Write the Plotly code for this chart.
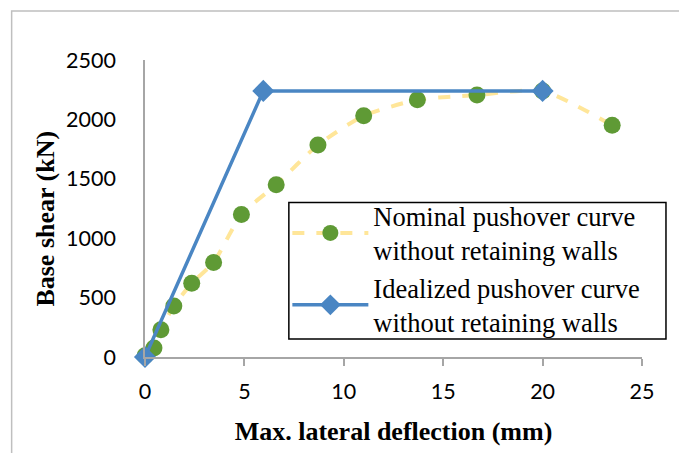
import plotly.graph_objects as go

# Nominal pushover curve
nominal_x = [0.0, 0.45, 0.8, 1.45, 2.35, 3.45, 4.85, 6.6, 8.7, 11.0, 13.7, 16.7, 20.0, 23.5]
nominal_y = [10, 75, 230, 430, 620, 795, 1200, 1450, 1785, 2030, 2165, 2205, 2240, 1950]

# Idealized pushover curve
ideal_x = [0.0, 5.95, 20.0]
ideal_y = [0, 2240, 2240]

x_ticks = [0, 5, 10, 15, 20, 25]
y_ticks = [0, 500, 1000, 1500, 2000, 2500]

OFF = 8  # page body margin
W, H = 687, 453
pw, ph = 497.5, 297
L = 144.5 - OFF
T = 60 - OFF
R = W - L - pw
B = H - T - ph

def sx(px):
    return (px - OFF - L) / pw

def sy(py):
    return (H - B - (py - OFF)) / ph

fig = go.Figure()
fig.add_trace(go.Scatter(
    x=nominal_x, y=nominal_y, mode="lines+markers",
    name="Nominal pushover curve<br>without retaining walls",
    line=dict(color="#FFE699", width=4, dash="dash", shape="spline", smoothing=0.6),
    marker=dict(symbol="circle", size=17, color="#5F9A35"),
    cliponaxis=False,
))
fig.add_trace(go.Scatter(
    x=ideal_x, y=ideal_y, mode="lines+markers",
    name="Idealized pushover curve<br>without retaining walls",
    line=dict(color="#4A86C3", width=3.5),
    marker=dict(symbol="diamond", size=17, color="#4A86C3"),
    cliponaxis=False,
))

axis_font = dict(family="Lato", size=21.5, color="#000000")
title_font = dict(family="Liberation Serif", size=26, color="#000000")

fig.update_layout(
    width=W, height=H,
    margin=dict(l=L, r=R, t=T, b=B, pad=0),
    paper_bgcolor="white", plot_bgcolor="white",
    showlegend=True,
    legend=dict(
        x=sx(287), y=sy(192), xanchor="left", yanchor="top",
        borderwidth=0, bgcolor="rgba(0,0,0,0)",
        font=dict(family="Liberation Serif", size=26.5, color="#000000"),
        itemwidth=76, tracegroupgap=0, valign="middle",
    ),
    xaxis=dict(
        range=[0, 25], tickvals=x_ticks, ticktext=[str(v) for v in x_ticks],
        showgrid=False, zeroline=False, showline=True, linecolor="#A6A6A6", linewidth=1.5,
        ticks="outside", ticklen=7, tickcolor="#A6A6A6", tickwidth=1.5,
        tickfont=axis_font, ticklabelstandoff=7,
        title=dict(text="<b>Max. lateral deflection (mm)</b>", font=title_font, standoff=19),
    ),
    yaxis=dict(
        range=[0, 2500], tickvals=y_ticks, ticktext=[str(v) for v in y_ticks],
        showgrid=False, zeroline=False, showline=True, linecolor="#A6A6A6", linewidth=1.5,
        ticks="", tickfont=axis_font, ticklabelstandoff=23,
    ),
    annotations=[dict(
        text="<b>Base shear (kN)</b>", textangle=-90, font=title_font,
        xref="paper", yref="paper", x=sx(44), y=sy(219),
        xanchor="center", yanchor="middle", showarrow=False,
    )],
    shapes=[
        dict(
            type="rect", xref="paper", yref="paper",
            x0=sx(11), x1=sx(683), y0=sy(480), y1=sy(11),
            line=dict(color="#BFBFBF", width=1.5), fillcolor="rgba(0,0,0,0)", layer="below",
        ),
        dict(
            type="rect", xref="paper", yref="paper",
            x0=sx(288.5), x1=sx(666), y0=sy(339), y1=sy(202.5),
            line=dict(color="#000000", width=1.5), fillcolor="white", layer="above",
        ),
    ],
)

fig.write_html("out.html")
